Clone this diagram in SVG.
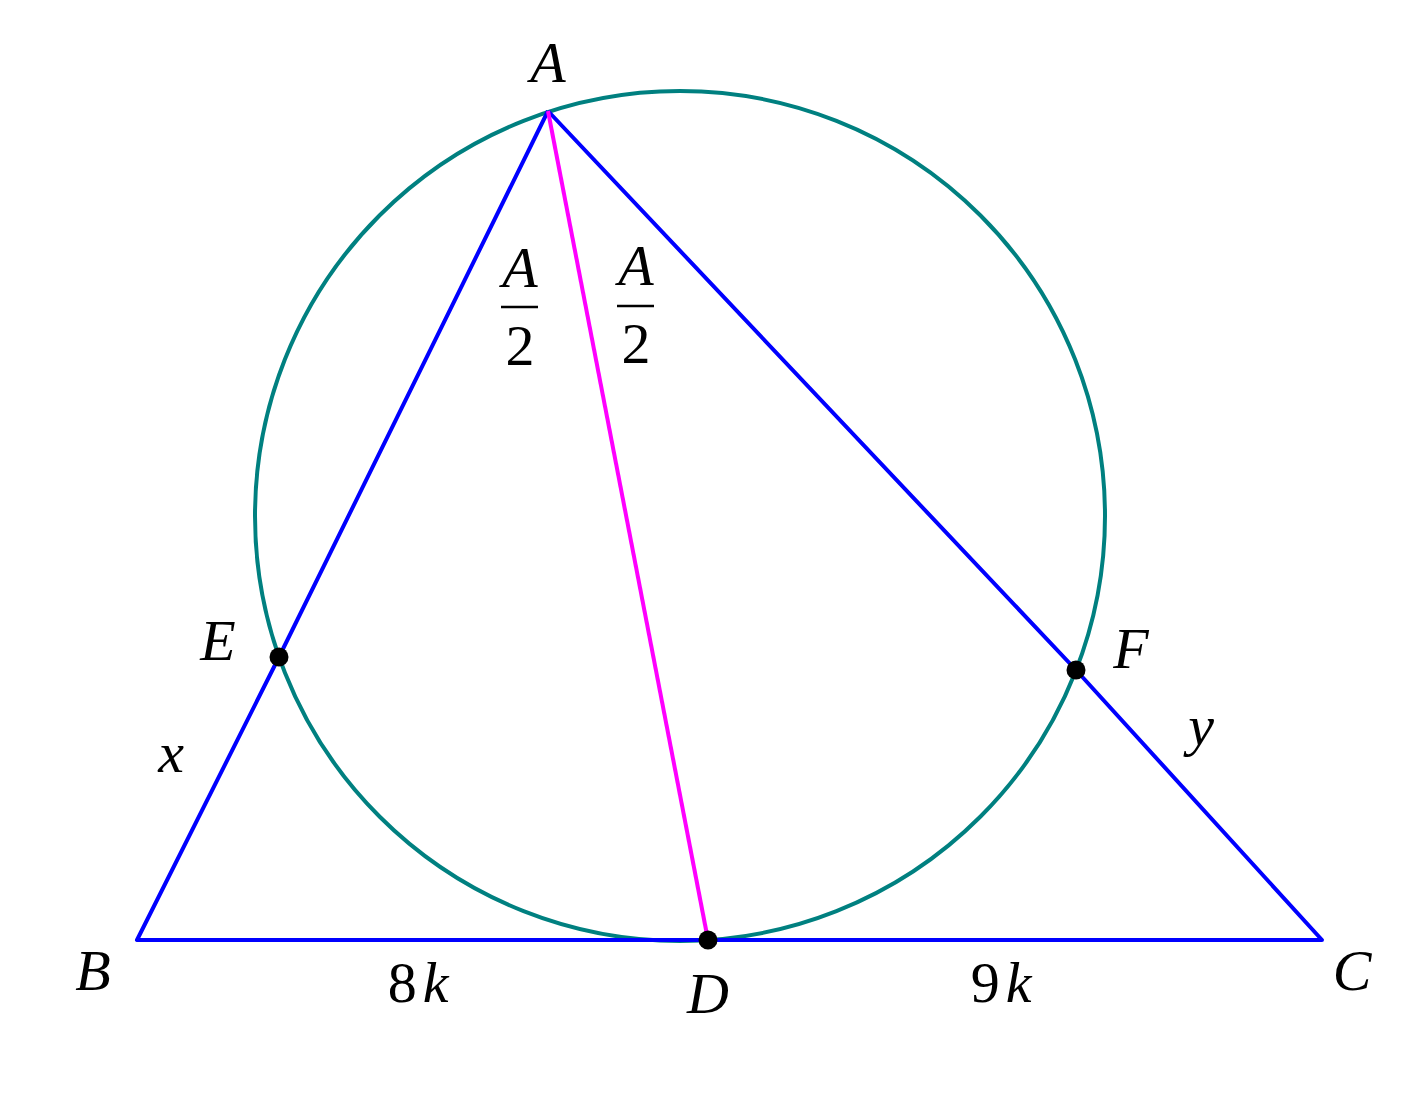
<svg xmlns="http://www.w3.org/2000/svg" width="1407" height="1118" viewBox="0 0 1407 1118">
<style>
.lbl{font-family:"Liberation Serif","DejaVu Serif",serif;font-style:italic;font-size:58px;fill:#000}
.num{font-family:"Liberation Serif","DejaVu Serif",serif;font-size:58px;fill:#000}
.side{fill:none;stroke:#0000ff;stroke-width:4;stroke-linejoin:round}
.dot{fill:#000}
</style>
<rect width="1407" height="1118" fill="#fff"/>
<g id="circle">
<circle cx="680" cy="516" r="425" fill="none" stroke="#008080" stroke-width="4"/>
</g>
<g id="connectors">
<polyline class="side" points="548,111 279,657 137,940 1322,940 1076,670 548,111"/>
<line x1="548" y1="111" x2="708" y2="940" stroke="#ff00ff" stroke-width="4"/>
</g>
<g id="node-A"><text class="lbl" x="548" y="82" text-anchor="middle">A</text></g>
<g id="node-B"><text class="lbl" x="93" y="990" text-anchor="middle">B</text></g>
<g id="node-C"><text class="lbl" x="1352" y="990" text-anchor="middle">C</text></g>
<g id="node-D"><circle class="dot" cx="708" cy="940" r="9.5"/><text class="lbl" x="708" y="1013" text-anchor="middle">D</text></g>
<g id="node-E"><circle class="dot" cx="279" cy="657" r="9.5"/><text class="lbl" x="218" y="660" text-anchor="middle">E</text></g>
<g id="node-F"><circle class="dot" cx="1076" cy="670" r="9.5"/><text class="lbl" x="1131" y="668" text-anchor="middle">F</text></g>
<g id="labels">
<text class="lbl" x="171" y="772" text-anchor="middle">x</text>
<text class="lbl" x="1201" y="745" text-anchor="middle">y</text>
<text x="418" y="1002" text-anchor="middle"><tspan class="num">8</tspan><tspan class="lbl" dx="6">k</tspan></text>
<text x="1001" y="1002" text-anchor="middle"><tspan class="num">9</tspan><tspan class="lbl" dx="6">k</tspan></text>
<text class="lbl" x="520" y="287" text-anchor="middle">A</text>
<line x1="501" y1="307" x2="538" y2="307" stroke="#000" stroke-width="2.5"/>
<text class="num" x="520" y="365" text-anchor="middle">2</text>
<text class="lbl" x="636" y="285" text-anchor="middle">A</text>
<line x1="617" y1="306" x2="654" y2="306" stroke="#000" stroke-width="2.5"/>
<text class="num" x="636" y="363" text-anchor="middle">2</text>
</g>
</svg>
